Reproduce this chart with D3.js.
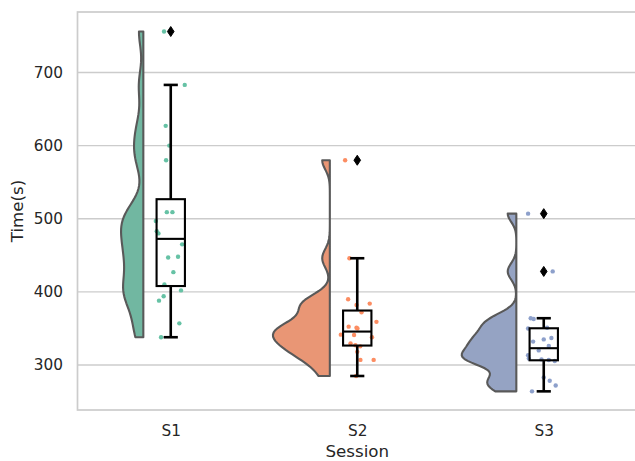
<!DOCTYPE html>
<html>
<head>
<meta charset="utf-8">
<script src="https://cdn.jsdelivr.net/npm/d3@7/dist/d3.min.js"></script>
<style>
  body { margin: 0; background: #fff; }
  text { font-family: "DejaVu Sans", sans-serif; fill: #262626; }
</style>
</head>
<body>
<svg id="chart" width="635" height="461"></svg>
<script>
// categories and values
const sessions = ["S1", "S2", "S3"];
const yTicks = [300, 400, 500, 600, 700];

const timesS1 = [756, 683, 627, 600, 580, 509, 509, 497, 483, 480, 465, 448, 447, 427, 410, 402, 394, 388, 357, 338];
const timesS2 = [580, 446, 390, 384, 382, 372, 359, 352.5, 351, 350, 341.5, 341, 338, 329.6, 327, 325.5, 318, 307, 307, 285];
const timesS3 = [507, 428, 364, 363, 351, 350, 337, 335, 332, 326, 320, 313.5, 309, 307.7, 306.8, 305.5, 283, 278.5, 272, 264];

// strip jitter of each point, in category units
const jitterS1 = [-0.036, 0.075, -0.027, -0.008, -0.025, -0.021, 0.009, -0.080, -0.075, -0.066, 0.061, 0.039, -0.014, 0.014, -0.034, 0.055, -0.038, -0.063, 0.046, -0.052];
const jitterS2 = [-0.065, -0.042, -0.049, 0.067, -0.004, 0.023, 0.103, -0.046, -0.004, 0.001, -0.088, -0.017, 0.079, -0.036, -0.010, 0.016, 0, 0.017, 0.088, -0.006];
const jitterS3 = [-0.084, 0.048, -0.070, -0.054, 0.018, -0.084, 0.041, 0, -0.057, 0.027, -0.027, -0.084, -0.080, -0.012, 0.027, 0.059, 0, 0.032, 0.064, -0.063];

const groups = [timesS1, timesS2, timesS3];
const jitters = [jitterS1, jitterS2, jitterS3];

const pointColors = ["#66c2a5", "#fc8d62", "#8da0cb"];   // Set2
const violinColors = ["#71b7a1", "#e99675", "#95a3c3"];  // Set2, desaturated

const width = 635, height = 461;
const margin = { top: 12, right: -2, bottom: 51, left: 77.5 };
const svg = d3.select("#chart");

const x = d3.scalePoint()
  .domain(sessions)
  .range([margin.left, width - margin.right])
  .padding(0.5);
const step = x.step();

const y = d3.scaleLinear()
  .domain([238.5, 782.7])
  .range([height - margin.bottom, margin.top]);

// grid
svg.append("g")
  .selectAll("line")
  .data(yTicks)
  .join("line")
  .attr("x1", margin.left).attr("x2", width - margin.right)
  .attr("y1", d => y(d)).attr("y2", d => y(d))
  .attr("stroke", "#cccccc").attr("stroke-width", 1.4);

// frame
svg.append("rect")
  .attr("x", margin.left).attr("y", margin.top)
  .attr("width", width - margin.right - margin.left)
  .attr("height", height - margin.bottom - margin.top)
  .attr("fill", "none").attr("stroke", "#cccccc").attr("stroke-width", 1.7);

// half violins: gaussian kde, bw factor 0.2, cut 0, area scaling
const violinOffset = 0.147, violinMax = 0.305, boxWidth = 0.152;

function kde(values) {
  const n = values.length;
  const sd = d3.deviation(values) * 0.2;
  const lo = d3.min(values), hi = d3.max(values);
  const grid = d3.range(100).map(i => lo + (hi - lo) * i / 99);
  return grid.map(v => [v, d3.sum(values, xi => Math.exp(-0.5 * ((v - xi) / sd) ** 2)) / (n * sd * Math.sqrt(2 * Math.PI))]);
}

const densities = groups.map(kde);
const maxDens = d3.max(densities, d => d3.max(d, p => p[1]));

densities.forEach((dens, i) => {
  const edge = x(sessions[i]) - violinOffset * step;
  const pts = dens.map(p => [edge - p[1] / maxDens * violinMax * step, y(p[0])]);
  pts.push([edge, y(dens[dens.length - 1][0])], [edge, y(dens[0][0])]);
  svg.append("path")
    .attr("d", d3.line()(pts) + "Z")
    .attr("fill", violinColors[i])
    .attr("stroke", "#595959")
    .attr("stroke-width", 2.1)
    .attr("stroke-linejoin", "round");
});

// strip points
groups.forEach((vals, i) => {
  svg.append("g")
    .selectAll("circle")
    .data(vals)
    .join("circle")
    .attr("cx", (d, j) => x(sessions[i]) + jitters[i][j] * step)
    .attr("cy", d => y(d))
    .attr("r", 2.2)
    .attr("fill", pointColors[i]);
});

// boxplots
groups.forEach((vals, i) => {
  const s = vals.slice().sort(d3.ascending);
  const q1 = d3.quantile(s, 0.25), med = d3.quantile(s, 0.5), q3 = d3.quantile(s, 0.75);
  const iqr = q3 - q1;
  const inside = s.filter(v => v >= q1 - 1.5 * iqr && v <= q3 + 1.5 * iqr);
  const lowW = d3.min(inside), highW = d3.max(inside);
  const outliers = s.filter(v => v < lowW || v > highW);
  const cx = x(sessions[i]), hw = boxWidth * step / 2;
  const g = svg.append("g").attr("stroke", "#000").attr("fill", "none");

  g.append("line").attr("x1", cx).attr("x2", cx).attr("y1", y(q3)).attr("y2", y(highW)).attr("stroke-width", 2.6);
  g.append("line").attr("x1", cx).attr("x2", cx).attr("y1", y(q1)).attr("y2", y(lowW)).attr("stroke-width", 2.6);
  [lowW, highW].forEach(v => g.append("line")
    .attr("x1", cx - hw / 2).attr("x2", cx + hw / 2)
    .attr("y1", y(v)).attr("y2", y(v)).attr("stroke-width", 2.6));
  g.append("rect")
    .attr("x", cx - hw).attr("y", y(q3))
    .attr("width", hw * 2).attr("height", y(q1) - y(q3))
    .attr("stroke-width", 2.1);
  g.append("line").attr("x1", cx - hw).attr("x2", cx + hw).attr("y1", y(med)).attr("y2", y(med)).attr("stroke-width", 2.1);

  g.selectAll("path.flier")
    .data(outliers)
    .join("path")
    .attr("class", "flier")
    .attr("d", d => `M${cx},${y(d) - 5}L${cx + 3.3},${y(d)}L${cx},${y(d) + 5}L${cx - 3.3},${y(d)}Z`)
    .attr("fill", "#000").attr("stroke-width", 1);
});

// axes
const xAxis = svg.append("g")
  .attr("transform", `translate(0,${height - margin.bottom})`)
  .call(d3.axisBottom(x).tickSize(0).tickPadding(15));
const yAxis = svg.append("g")
  .attr("transform", `translate(${margin.left},0)`)
  .call(d3.axisLeft(y).tickValues(yTicks).tickSize(0).tickPadding(14.5));
[xAxis, yAxis].forEach(a => {
  a.select(".domain").remove();
  a.selectAll("text").attr("font-size", 15.3).attr("fill", "#262626")
    .attr("font-family", "DejaVu Sans, sans-serif");
});

svg.append("text")
  .attr("x", (margin.left + width - margin.right) / 2)
  .attr("y", 457)
  .attr("text-anchor", "middle")
  .attr("font-size", 16.7)
  .text("Session");

svg.append("text")
  .attr("transform", `translate(22.5,${(margin.top + height - margin.bottom) / 2}) rotate(-90)`)
  .attr("text-anchor", "middle")
  .attr("font-size", 16.7)
  .text("Time(s)");
</script>
</body>
</html>
